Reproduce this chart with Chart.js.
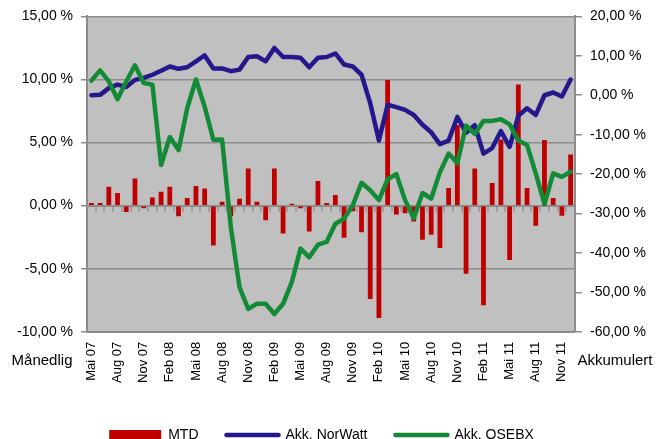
<!DOCTYPE html>
<html>
<head>
<meta charset="utf-8">
<script src="https://cdn.jsdelivr.net/npm/chart.js@4.4.1/dist/chart.umd.min.js"></script>
<style>
  html, body { margin: 0; padding: 0; background: #fff; }
  #wrap { width: 656px; height: 439px; }
</style>
</head>
<body>
<div id="wrap"><canvas id="navChart"></canvas></div>
<script>
const months = [
  "Mai 07", "Jun 07", "Jul 07", "Aug 07", "Sep 07", "Okt 07", "Nov 07", "Des 07",
  "Jan 08", "Feb 08", "Mar 08", "Apr 08", "Mai 08", "Jun 08", "Jul 08", "Aug 08",
  "Sep 08", "Okt 08", "Nov 08", "Des 08", "Jan 09", "Feb 09", "Mar 09", "Apr 09",
  "Mai 09", "Jun 09", "Jul 09", "Aug 09", "Sep 09", "Okt 09", "Nov 09", "Des 09",
  "Jan 10", "Feb 10", "Mar 10", "Apr 10", "Mai 10", "Jun 10", "Jul 10", "Aug 10",
  "Sep 10", "Okt 10", "Nov 10", "Des 10", "Jan 11", "Feb 11", "Mar 11", "Apr 11",
  "Mai 11", "Jun 11", "Jul 11", "Aug 11", "Sep 11", "Okt 11", "Nov 11", "Des 11"
];

// månedlig avkastning (venstre akse)
const mtd = [
  0.2, 0.2, 1.5, 1.0, -0.5, 2.15, -0.2, 0.65, 1.1, 1.5, -0.85, 0.6,
  1.55, 1.35, -3.15, 0.3, -0.85, 0.55, 2.95, 0.3, -1.15, 2.95, -2.2, 0.15,
  -0.2, -2.05, 1.95, 0.2, 0.85, -2.55, -0.45, -2.1, -7.4, -8.9, 9.95, -0.7,
  -0.6, -1.25, -2.7, -2.3, -3.35, 1.4, 6.4, -5.4, 2.95, -7.9, 1.8, 5.25,
  -4.3, 9.6, 1.4, -1.6, 5.2, 0.6, -0.8, 4.05
];

// akkumulert (høyre akse)
const akkNorWatt = [
  0.0, 0.1, 1.8, 2.7, 2.1, 3.9, 4.4, 5.2, 6.2, 7.3, 6.7, 7.1,
  8.6, 10.1, 6.8, 6.8, 6.1, 6.5, 9.7, 9.9, 8.6, 12.0, 9.7, 9.7,
  9.5, 7.1, 9.5, 9.7, 10.6, 7.8, 7.3, 5.2, -2.0, -11.5, -2.4, -3.0,
  -3.7, -5.0, -7.5, -9.4, -12.4, -11.5, -5.5, -9.5, -7.6, -14.8, -13.4, -9.1,
  -13.1, -5.2, -3.3, -5.0, 0.0, 0.7, -0.3, 4.0
];

const akkOSEBX = [
  3.7, 6.3, 3.5, -1.0, 3.5, 7.6, 3.1, 2.7, -17.7, -10.6, -13.9, -3.3,
  4.0, -2.9, -11.3, -11.2, -33.4, -48.7, -54.2, -52.9, -52.9, -55.5, -52.9, -47.4,
  -38.9, -41.1, -37.9, -37.2, -32.6, -31.3, -27.9, -22.2, -24.1, -26.6, -21.3, -20.0,
  -26.6, -31.2, -24.8, -26.2, -19.5, -14.8, -17.2, -7.7, -9.8, -6.5, -6.5, -6.1,
  -7.4, -11.5, -12.6, -19.8, -27.6, -19.8, -20.7, -19.4
];

const seriesNames = ["MTD", "Akk. NorWatt", "Akk. OSEBX"];
const seriesColors = ["#c00000", "#24188c", "#138a36"];

Chart.defaults.font.family = "'Liberation Sans', Arial, sans-serif";
Chart.defaults.color = "#000";

const axisGray = "#8c8c8c";

function pct(v) {
  return v.toFixed(2).replace(".", ",") + " %";
}

const plotBackground = {
  id: "plotBackground",
  beforeDraw(chart) {
    const a = chart.chartArea;
    const ctx = chart.ctx;
    ctx.save();
    ctx.fillStyle = "#c0c0c0";
    ctx.fillRect(a.left, a.top, a.right - a.left, a.bottom - a.top);
    ctx.restore();
  }
};

const axisNames = {
  id: "axisNames",
  afterDraw(chart) {
    const a = chart.chartArea;
    const ctx = chart.ctx;
    ctx.save();
    ctx.font = "15px 'Liberation Sans', Arial, sans-serif";
    ctx.fillStyle = "#000";
    ctx.textAlign = "center";
    ctx.textBaseline = "middle";
    ctx.fillText("Månedlig", a.left - 45, a.bottom + 29);
    ctx.fillText("Akkumulert", a.right + 40, a.bottom + 29);
    ctx.restore();
  }
};

// legend sits a little left of centre in the original
const legendShift = {
  id: "legendShift",
  afterLayout(chart) {
    chart.legend.left -= 10;
    chart.legend.right -= 10;
  }
};

const data = {
  labels: months,
  datasets: [
    {
      type: "bar",
      label: seriesNames[0],
      data: mtd,
      backgroundColor: seriesColors[0],
      yAxisID: "y",
      categoryPercentage: 1,
      barPercentage: 0.55,
      order: 3
    },
    {
      type: "line",
      label: seriesNames[1],
      data: akkNorWatt,
      borderColor: seriesColors[1],
      backgroundColor: seriesColors[1],
      borderWidth: 4.5,
      borderJoinStyle: "round",
      borderCapStyle: "round",
      pointRadius: 0,
      tension: 0,
      yAxisID: "y1",
      order: 2
    },
    {
      type: "line",
      label: seriesNames[2],
      data: akkOSEBX,
      borderColor: seriesColors[2],
      backgroundColor: seriesColors[2],
      borderWidth: 4.5,
      borderJoinStyle: "round",
      borderCapStyle: "round",
      pointRadius: 0,
      tension: 0,
      yAxisID: "y1",
      order: 1
    }
  ]
};

const config = {
  type: "bar",
  data: data,
  options: {
    responsive: true,
    maintainAspectRatio: false,
    animation: false,
    layout: {
      padding: { left: 9, right: 2, top: 15, bottom: -13 }
    },
    plugins: {
      tooltip: { enabled: false },
      legend: {
        position: "bottom",
        labels: {
          usePointStyle: true,
          pointStyleWidth: 52,
          boxHeight: 10,
          padding: 28,
          font: { size: 14 },
          generateLabels: function () {
            return [
              { text: seriesNames[0], fillStyle: seriesColors[0], strokeStyle: seriesColors[0], lineWidth: 0, pointStyle: "rect", datasetIndex: 0, hidden: false },
              { text: seriesNames[1], fillStyle: seriesColors[1], strokeStyle: seriesColors[1], lineWidth: 4.5, lineCap: "round", pointStyle: "line", datasetIndex: 1, hidden: false },
              { text: seriesNames[2], fillStyle: seriesColors[2], strokeStyle: seriesColors[2], lineWidth: 4.5, lineCap: "round", pointStyle: "line", datasetIndex: 2, hidden: false }
            ];
          }
        }
      }
    },
    scales: {
      x: {
        grid: { drawOnChartArea: false, drawTicks: false },
        border: { color: axisGray, width: 2 },
        afterFit: function (scale) {
          scale.height += 7;
        },
        ticks: {
          autoSkip: false,
          minRotation: 90,
          maxRotation: 90,
          padding: 10,
          font: { size: 13 },
          callback: function (val, i) {
            return i % 3 === 0 ? this.getLabelForValue(val) : "";
          }
        }
      },
      x2: {
        type: "category",
        labels: months,
        position: { y: 0 },
        offset: true,
        grid: { offset: true, drawOnChartArea: false, drawTicks: true, tickLength: 5, color: "#a0a0a0", lineWidth: 2 },
        border: { color: axisGray, width: 2 },
        ticks: { display: false }
      },
      y: {
        position: "left",
        min: -10,
        max: 15,
        ticks: { stepSize: 5, padding: 8, font: { size: 14 }, callback: (v) => pct(v) },
        grid: { color: axisGray, lineWidth: 1.5, tickLength: 6 },
        border: { color: axisGray, width: 2 }
      },
      y1: {
        position: "right",
        min: -60,
        max: 20,
        ticks: { stepSize: 10, padding: 8, font: { size: 14 }, callback: (v) => pct(v) },
        grid: { drawOnChartArea: false, color: axisGray, lineWidth: 1.5, tickLength: 7 },
        border: { color: axisGray, width: 2 }
      }
    }
  },
  plugins: [plotBackground, axisNames, legendShift]
};

const navChart = new Chart(document.getElementById("navChart"), config);
</script>
</body>
</html>
